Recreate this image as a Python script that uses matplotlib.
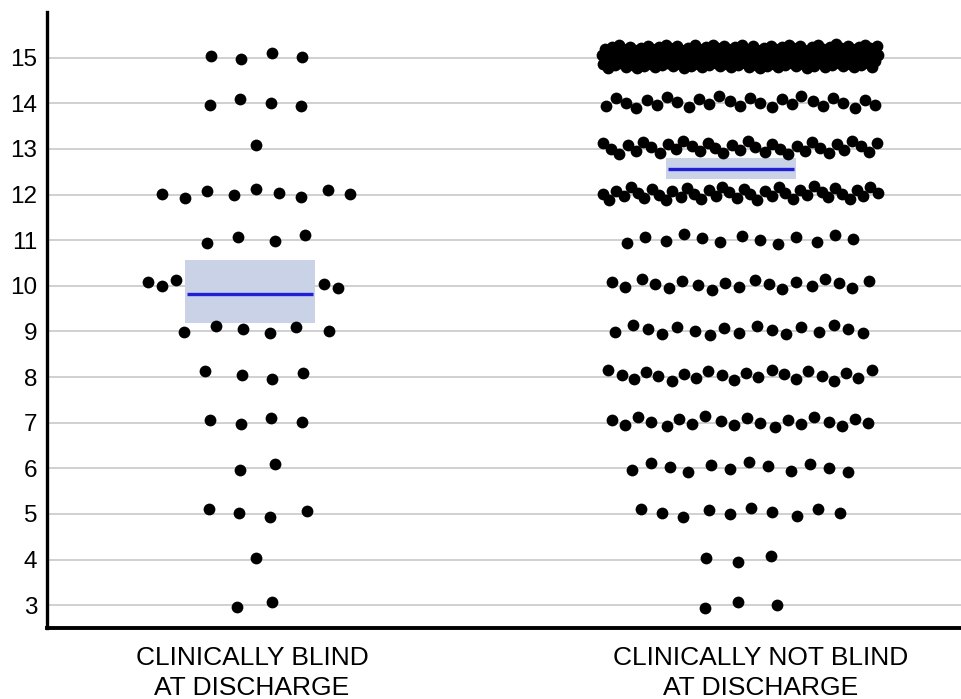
import numpy as np
import matplotlib
matplotlib.use("Agg")
import matplotlib.pyplot as plt
from matplotlib import font_manager


SCORES = [3, 4, 5, 6, 7, 8, 9, 10, 11, 12, 13, 14, 15]
BLIND_COUNTS = [2, 1, 4, 2, 4, 4, 6, 5, 4, 9, 1, 4, 4]
NOT_BLIND_COUNTS = [3, 3, 10, 12, 20, 22, 17, 19, 13, 40, 35, 27, 200]
GROUP_LABELS = ["CLINICALLY BLIND\nAT DISCHARGE", "CLINICALLY NOT BLIND\nAT DISCHARGE"]
BOX_MEAN = [9.81, 12.55]
BOX_LOW = [9.18, 12.33]
BOX_HIGH = [10.56, 12.81]

PX_PER_UNIT = 488.0


def _pick_font(names):
    have = {f.name for f in font_manager.fontManager.ttflist}
    for name in names:
        if name in have:
            return name
    return "DejaVu Sans"


def _row_positions(center, score, n, box_lo, box_hi, box_x0, box_x1):
    """Deterministic spread of n dots for one score row."""
    k = np.arange(n)
    amp = min(0.26, 0.1 + 0.0015 * n)
    dy = amp * (2 * ((k * 0.618034 + score * 0.37) % 1.0) - 1) + 0.03
    if box_lo <= score <= box_hi:
        # keep the dots clear of the interval box
        n_left = (n + 1) // 2
        step = 14 / PX_PER_UNIT
        gap = 9 / PX_PER_UNIT
        left = box_x0 - gap - step * np.arange(n_left)[::-1]
        right = box_x1 + gap + step * np.arange(n - n_left)
        xs = np.concatenate([left, right])
        return xs, score + dy
    width = 276 * (1 - np.exp(-(n - 1) / 7.0)) / PX_PER_UNIT
    if n > 1:
        xs = center - width / 2 + width * k / (n - 1)
    else:
        xs = np.array([center])
    wobble = 0.2 * (width / max(n - 1, 1)) * (((k * 0.7548 + score * 0.13) % 1.0) - 0.5)
    return xs + wobble, score + dy


def main():
    tick_font = _pick_font(["Liberation Sans", "Arial"])
    label_font = _pick_font(["Liberation Sans Narrow", "Liberation Sans"])

    fig = plt.figure(figsize=(9.61, 6.99), dpi=100)
    ax = fig.add_axes([47 / 961, 71 / 699, 914 / 961, 616 / 699])

    ax.set_xlim(-205 / PX_PER_UNIT, 1 + (961 - 740) / PX_PER_UNIT)
    ax.set_ylim(2.5, 16)

    for s in SCORES:
        ax.axhline(s, color="#c8c8c8", lw=1.2, zorder=0)

    box_half = 65 / PX_PER_UNIT
    box_shift = [-0.004, -0.018]
    groups = [BLIND_COUNTS, NOT_BLIND_COUNTS]
    for gi, counts in enumerate(groups):
        bc = gi + box_shift[gi]
        x0, x1 = bc - box_half, bc + box_half
        ax.fill_between([x0, x1], BOX_LOW[gi], BOX_HIGH[gi],
                        color="#c9d2e6", lw=0, zorder=2)
        ax.plot([x0 + 0.004, x1 - 0.004], [BOX_MEAN[gi]] * 2,
                color="#1f1fd6", lw=2.4, zorder=3, solid_capstyle="butt")
        center = gi + (0.008 if gi == 0 else 0.0)
        for s, n in zip(SCORES, counts):
            xs, ys = _row_positions(center, s, n, BOX_LOW[gi], BOX_HIGH[gi], x0, x1)
            ax.scatter(xs, ys, s=72, color="black", lw=0, zorder=4)

    ax.spines["top"].set_visible(False)
    ax.spines["right"].set_visible(False)
    ax.spines["left"].set_linewidth(2.4)
    ax.spines["bottom"].set_linewidth(2.8)

    ax.set_yticks(SCORES)
    ax.set_yticklabels([str(s) for s in SCORES], fontfamily=tick_font, fontsize=17.5)
    ax.tick_params(axis="y", length=0, pad=7)

    ax.set_xticks([0.0, 1.043])
    ax.set_xticklabels(GROUP_LABELS, fontfamily=label_font, fontsize=19,
                       linespacing=1.3)
    ax.tick_params(axis="x", length=0, pad=13)

    fig.savefig("out.png", dpi=100)
    plt.close(fig)


if __name__ == "__main__":
    main()
